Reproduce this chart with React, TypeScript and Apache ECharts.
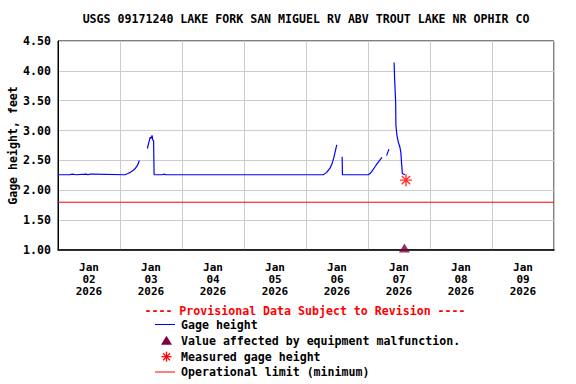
import React, { useEffect, useRef } from "react";
import * as echarts from "echarts";

const titleText = "USGS 09171240 LAKE FORK SAN MIGUEL RV ABV TROUT LAKE NR OPHIR CO";
const dayLabels = ["Jan\n02\n2026", "Jan\n03\n2026", "Jan\n04\n2026", "Jan\n05\n2026", "Jan\n06\n2026", "Jan\n07\n2026", "Jan\n08\n2026", "Jan\n09\n2026"];
// hours since Jan 02 00:00; null = gap in record
const gageHours = [0, 4.5, 4.6, 5.5, 5.6, 7, 7.1, 11, 11.5, 12.5, 13.5, 13.6, 25.9, 27, 28, 29, 30, 30.8, 31.5, 33, 34.6, 35.1, 35.7, 36.1, 36.4, 36.7, 37.0, 37.2, 39.6, 39.7, 40.2, 41.3, 41.6, 102.7, 104, 105.3, 106.1, 106.8, 107.9, 109, 110.0, 110.1, 120.1, 120.8, 121.9, 123.1, 124.3, 125.4, 126.3, 127.2, 128.1, 129.1, 130.1, 130.3, 130.7, 130.8, 131.2, 131.7, 132.3, 132.7, 133.0, 133.3, 134.3];
const gageValues = [2.26, 2.26, 2.27, 2.27, 2.26, 2.26, 2.27, 2.27, 2.26, 2.27, 2.27, 2.26, 2.26, 2.28, 2.30, 2.33, 2.37, 2.42, 2.50, null, 2.70, 2.79, 2.89, 2.87, 2.92, 2.84, 2.83, 2.26, 2.26, 2.27, 2.26, 2.27, 2.26, 2.26, 2.30, 2.37, 2.45, 2.55, 2.76, null, 2.56, 2.26, 2.26, 2.28, 2.34, 2.42, 2.49, 2.55, null, 2.58, 2.69, null, 4.14, 3.87, 3.48, 3.09, 2.92, 2.81, 2.73, 2.64, 2.45, 2.28, 2.26];
const malfunctionHours = [134.1];
const malfunctionValues = [1.0];
const measuredHours = [134.7];
const measuredValues = [2.17];
const operationalLimit = 1.8;
const xRange = [0, 192];
const yTicks = [1.0, 1.5, 2.0, 2.5, 3.0, 3.5, 4.0, 4.5];
const legendItems = ["Gage height", "Value affected by equipment malfunction.", "Measured gage height", "Operational limit (minimum)"];

const FONT = "'DejaVu Sans Mono', monospace";
const STAR = "path://M5,0L5,10M0,5L10,5M1.5,1.5L8.5,8.5M1.5,8.5L8.5,1.5";

export default function App() {
  const ref = useRef<HTMLDivElement>(null);
  useEffect(() => {
    if (!ref.current) return;
    const chart = echarts.init(ref.current, null, { renderer: "svg" });
    const gageData = gageHours.map((h, i) => [h, gageValues[i] === null ? "-" : gageValues[i]]);
    const txt = (x: number, y: number, text: string, fill = "#000", align = "left") => ({
      type: "text",
      x,
      y,
      style: { text, fill, font: `bold 11.6px ${FONT}`, textAlign: align, textVerticalAlign: "middle" },
    });
    const lx = 181;
    const rows = [324.5, 340.7, 356.7, 372];
    chart.setOption({
      animation: false,
      backgroundColor: "#fff",
      grid: { left: 58, right: 22, top: 41, bottom: 134, show: true, borderColor: "#000", borderWidth: 1, containLabel: false, outerBoundsMode: "none" },
      xAxis: [
        { type: "value", min: xRange[0], max: xRange[1], show: false },
        {
          type: "category",
          data: dayLabels,
          boundaryGap: true,
          position: "bottom",
          axisLine: { show: true, lineStyle: { color: "#000", width: 1.5 } },
          axisTick: { show: false },
          splitLine: { show: true, lineStyle: { color: "#ccc", width: 1 } },
          axisLabel: { color: "#000", fontFamily: FONT, fontWeight: "bold", fontSize: 11, lineHeight: 12, margin: 11, interval: 0 },
        },
      ],
      yAxis: {
        type: "value",
        min: yTicks[0],
        max: yTicks[yTicks.length - 1],
        interval: 0.5,
        name: "Gage height, feet",
        nameLocation: "middle",
        nameGap: 39,
        nameMoveOverlap: false,
        nameTextStyle: { color: "#000", fontFamily: FONT, fontWeight: "bold", fontSize: 11.6 },
        axisLine: { show: true, lineStyle: { color: "#000" } },
        axisTick: { show: false },
        splitLine: { show: true, lineStyle: { color: "#ccc", width: 1 } },
        axisLabel: { color: "#000", fontFamily: FONT, fontWeight: "bold", fontSize: 11.6, margin: 7, formatter: (v: number) => v.toFixed(2) },
      },
      series: [
        {
          type: "line",
          xAxisIndex: 0,
          data: [[xRange[0], operationalLimit], [xRange[1], operationalLimit]],
          showSymbol: false,
          lineStyle: { color: "#ff0000", width: 1 },
          z: 2,
        },
        {
          type: "line",
          xAxisIndex: 0,
          data: gageData,
          showSymbol: false,
          connectNulls: false,
          lineStyle: { color: "#0000ff", width: 1.2 },
          z: 3,
        },
        {
          type: "scatter",
          xAxisIndex: 0,
          data: malfunctionHours.map((h, i) => [h, malfunctionValues[i]]),
          symbol: "triangle",
          symbolSize: [11, 9],
          symbolOffset: [0, -2],
          clip: false,
          itemStyle: { color: "#800040" },
          z: 4,
        },
        {
          type: "scatter",
          xAxisIndex: 0,
          data: measuredHours.map((h, i) => [h, measuredValues[i]]),
          symbol: STAR,
          symbolSize: 12,
          clip: false,
          itemStyle: { color: "transparent", borderColor: "#ff0000", borderWidth: 1.4 },
          z: 4,
        },
      ],
      graphic: [
        txt(306, 19, titleText, "#000", "center"),
        txt(305, 311, "---- Provisional Data Subject to Revision ----", "#ff0000", "center"),
        { type: "line", shape: { x1: 155, y1: rows[0], x2: 175, y2: rows[0] }, style: { stroke: "#0000ff", lineWidth: 1 } },
        txt(lx, rows[0], legendItems[0]),
        { type: "polygon", shape: { points: [[166.5, rows[1] - 5], [161, rows[1] + 4], [172, rows[1] + 4]] }, style: { fill: "#800040" } },
        txt(lx, rows[1], legendItems[1]),
        {
          type: "group",
          x: 166.5,
          y: rows[2],
          children: [
            { type: "line", shape: { x1: 0, y1: -5, x2: 0, y2: 5 }, style: { stroke: "#ff0000", lineWidth: 1.3 } },
            { type: "line", shape: { x1: -5, y1: 0, x2: 5, y2: 0 }, style: { stroke: "#ff0000", lineWidth: 1.3 } },
            { type: "line", shape: { x1: -3.5, y1: -3.5, x2: 3.5, y2: 3.5 }, style: { stroke: "#ff0000", lineWidth: 1.3 } },
            { type: "line", shape: { x1: -3.5, y1: 3.5, x2: 3.5, y2: -3.5 }, style: { stroke: "#ff0000", lineWidth: 1.3 } },
          ],
        },
        txt(lx, rows[2], legendItems[2]),
        { type: "line", shape: { x1: 155, y1: rows[3], x2: 175, y2: rows[3] }, style: { stroke: "#ff0000", lineWidth: 1 } },
        txt(lx, rows[3], legendItems[3]),
      ],
    });
    return () => chart.dispose();
  }, []);
  return <div ref={ref} style={{ position: "absolute", left: 0, top: 0, width: 576, height: 384 }} />;
}
